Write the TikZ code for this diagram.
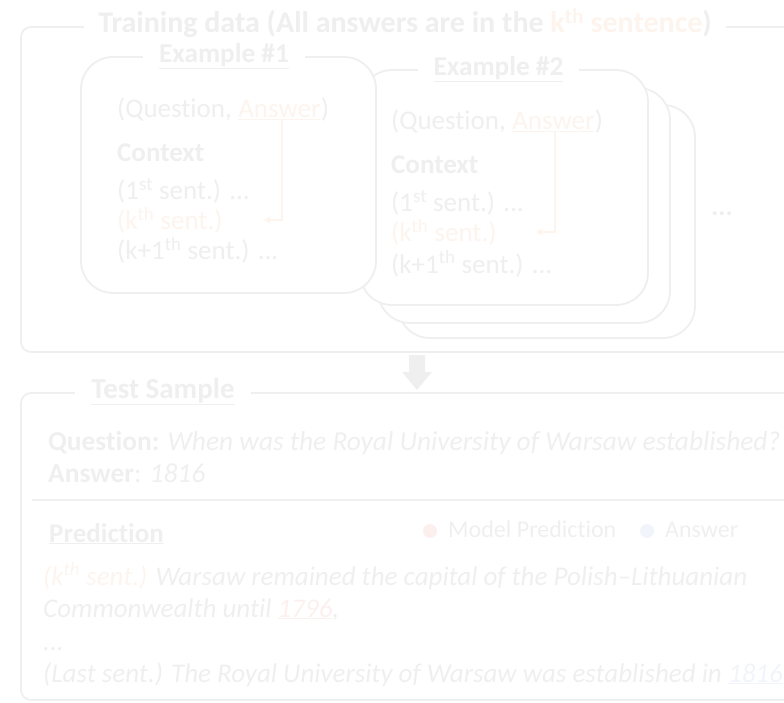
\documentclass[tikz,border=0pt]{standalone}
\usepackage{fontspec}
\setmainfont{Carlito}[Ligatures=NoCommon]
\usetikzlibrary{arrows.meta}
\definecolor{cText}{HTML}{EFEFEF}
\definecolor{cLine}{HTML}{EFEFEF}
\definecolor{cOrange}{HTML}{FDF4EE}
\definecolor{cRed}{HTML}{FCF0EF}
\definecolor{cBlue}{HTML}{F1F4FA}
\begin{document}
\begin{tikzpicture}[x=1pt,y=-1pt,
  frame/.style={draw=cLine, line width=1.8pt},
  exbox/.style={draw=cLine, line width=1.8pt, fill=white, rounded corners=32pt,
    rectangle, inner sep=0pt},
  heading/.style={text=cText, fill=white, inner xsep=16pt, inner ysep=2pt,
    anchor=base, font=\fontsize{30}{34}\selectfont\bfseries},
  subheading/.style={heading, font=\fontsize{27.3}{31}\selectfont\bfseries},
  body/.style={text=cText, inner sep=0pt, anchor=base west,
    font=\fontsize{27}{32}\selectfont},
  hl/.style={body, text=cOrange},
  legend/.style={text=cText, inner sep=0pt, anchor=base west,
    font=\fontsize{24}{28}\selectfont},
  conn/.style={draw=cOrange, line width=1.3pt,
    -{Stealth[length=7pt,width=7pt]}},
  dot/.style={circle, inner sep=0pt, minimum size=14pt}]
\useasboundingbox (0,0) rectangle (784,703);
\clip (0,0) rectangle (784,703);

% ---------- training data frame ----------
\draw[frame, rounded corners=10pt] (120,27) -- (21,27) -- (21,352) -- (820,352);
\draw[frame] (700,27) -- (820,27);
\node[heading, inner xsep=14pt] (train) at (405,33)
  {Training data (All answers are in the \textcolor{cOrange}{k\textsuperscript{th} sentence})};

% stacked example cards (back to front)
\node[exbox, minimum width=297pt, minimum height=233pt] (card3) at (546.5,221.5) {};
\node[exbox, minimum width=292pt, minimum height=235pt] (card2) at (524,205.5) {};
\node[exbox, minimum width=288pt, minimum height=235pt] (ex2) at (504,187.5) {};
\node[exbox, minimum width=295pt, minimum height=236pt] (ex1) at (228.5,175) {};

% example 1
\node[subheading] (ex1title) at (224,63) {\underline{Example \#1}};
\node[body] (q1) at (117,118) {(Question,\ \kern0pt};
\node[hl] (a1) at (q1.base east) {\underline{Answer}};
\node[body] (q1e) at (a1.base east) {)};
\node[body, font=\fontsize{27}{32}\selectfont\bfseries] (c1) at (117,162) {Context};
\node[body] (s1a) at (117,200) {(1\textsuperscript{st} sent.) ...};
\node[hl] (s1k) at (117,230) {(k\textsuperscript{th} sent.)};
\node[body] (s1n) at (117,260) {(k+1\textsuperscript{th} sent.) ...};
\coordinate (tip1) at (264,220);
\draw[conn] (a1.south -| 282,0) |- (tip1);

% example 2
\node[subheading] (ex2title) at (498.5,76) {\underline{Example \#2}};
\node[body] (q2) at (391,130) {(Question,\ \kern0pt};
\node[hl] (a2) at (q2.base east) {\underline{Answer}};
\node[body] (q2e) at (a2.base east) {)};
\node[body, font=\fontsize{27}{32}\selectfont\bfseries] (c2) at (391,174) {Context};
\node[body] (s2a) at (391,212) {(1\textsuperscript{st} sent.) ...};
\node[hl] (s2k) at (391,242) {(k\textsuperscript{th} sent.)};
\node[body] (s2n) at (391,273) {(k+1\textsuperscript{th} sent.) ...};
\coordinate (tip2) at (536,232);
\draw[conn] (a2.south -| 555,0) |- (tip2);

\node[body, font=\fontsize{27}{32}\selectfont\bfseries] (more) at (711,216) {...};

% ---------- arrow to test sample ----------
\fill[cLine] (409,355) -- (425,355) -- (425,372) -- (432,372) -- (417,390)
  -- (402,372) -- (409,372) -- cycle;

% ---------- test sample frame ----------
\draw[frame, rounded corners=10pt] (100,393) -- (21,393) -- (21,700) -- (820,700);
\draw[frame] (200,393) -- (820,393);
\node[heading, font=\fontsize{29}{33}\selectfont\bfseries] (test) at (163,398) {\underline{Test Sample}};

\node[body, font=\fontsize{27.4}{32}\selectfont] (question) at (48,450)
  {\textbf{Question:} \textit{When was the Royal University of Warsaw established?}};
\node[body, font=\fontsize{27.4}{32}\selectfont] (answer) at (48,482) {\textbf{Answer}: \textit{1816}};
\draw[frame] (32,500) -- (820,500);

\node[body, font=\fontsize{27}{32}\selectfont\bfseries] (pred) at (49,542) {\underline{Prediction}};
\node[dot, fill=cRed] (dotR) at (430,531) {};
\node[legend] (legR) at (448,537) {Model Prediction};
\node[dot, fill=cBlue] (dotB) at (647,531) {};
\node[legend] (legB) at (665,537) {Answer};

\node[body, font=\fontsize{27}{32}\selectfont\itshape] (p1) at (43,585)
  {\textcolor{cOrange}{(k\textsuperscript{th} sent.)} Warsaw remained the capital of the Polish–Lithuanian};
\node[body, font=\fontsize{27}{32}\selectfont\itshape] (p2) at (43,617)
  {Commonwealth until \textcolor{cRed}{\underline{1796}},};
\node[body, font=\fontsize{27}{32}\selectfont\itshape] (p3) at (43,650) {...};
\node[body, font=\fontsize{27}{32}\selectfont\itshape] (p4) at (43,682)
  {(Last sent.) The Royal University of Warsaw was established in \textcolor{cBlue}{\underline{1816}}};
\end{tikzpicture}
\end{document}
